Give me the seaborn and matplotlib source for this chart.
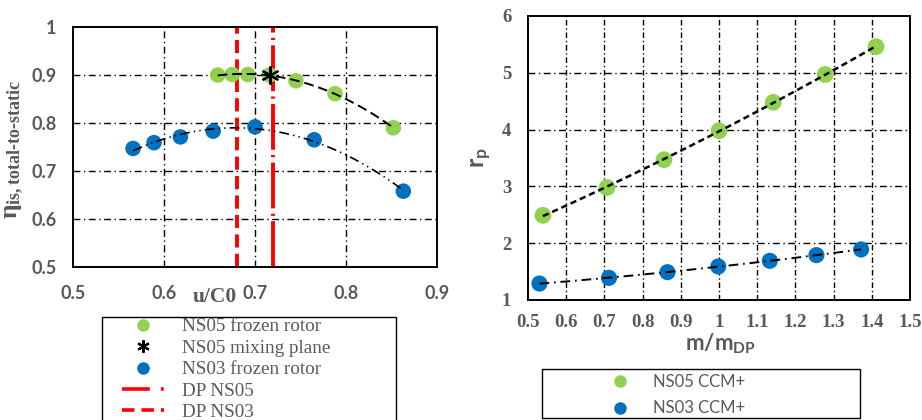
import numpy as np
import pandas as pd
import matplotlib
matplotlib.use("Agg")
import matplotlib.pyplot as plt
from matplotlib.lines import Line2D
from matplotlib.patches import Rectangle
import seaborn as sns

# ---------------- data ----------------
ns05_u = [0.659, 0.675, 0.692, 0.716, 0.745, 0.788, 0.852]
ns05_eta = [0.900, 0.901, 0.901, 0.900, 0.888, 0.861, 0.790]
mix_u = [0.717]
mix_eta = [0.900]
ns03_u = [0.566, 0.589, 0.618, 0.654, 0.700, 0.765, 0.863]
ns03_eta = [0.747, 0.759, 0.771, 0.783, 0.792, 0.765, 0.658]
dp_ns05 = 0.720
dp_ns03 = 0.680

ns05_m = [0.539, 0.707, 0.856, 1.000, 1.142, 1.278, 1.411]
ns05_rp = [2.49, 2.98, 3.47, 3.98, 4.48, 4.97, 5.46]
ns03_m = [0.530, 0.712, 0.865, 0.998, 1.133, 1.255, 1.372]
ns03_rp = [1.29, 1.39, 1.49, 1.59, 1.69, 1.79, 1.89]

left_xticks = [0.5, 0.6, 0.7, 0.8, 0.9]
left_yticks = [0.5, 0.6, 0.7, 0.8, 0.9, 1.0]
left_yticklabels = ["0.5", "0.6", "0.7", "0.8", "0.9", "1"]
right_xticks = [0.5, 0.6, 0.7, 0.8, 0.9, 1.0, 1.1, 1.2, 1.3, 1.4, 1.5]
right_xticklabels = ["0.5", "0.6", "0.7", "0.8", "0.9", "1", "1.1", "1.2", "1.3", "1.4", "1.5"]
right_yticks = [1, 2, 3, 4, 5, 6]

GREEN = "#92D050"
BLUE = "#0070C0"
RED = "#FF0000"
GRAY = "#595959"
SERIF = "Liberation Serif"
SANS = "Lato"

sns.set_style("white")
plt.rcParams["lines.scale_dashes"] = False
plt.rcParams["font.family"] = ["DejaVu Sans"]

fig = plt.figure(figsize=(9.22, 4.2), dpi=100)
ax1 = fig.add_axes([73 / 922, 1 - 267 / 420, 364 / 922, 240 / 420])
ax2 = fig.add_axes([528 / 922, 1 - 300 / 420, 382 / 922, 284 / 420])

grid_dd = (0, (5, 2.5, 1, 2.5))


def fit_df(x, y, deg=2, n=100):
    c = np.polyfit(x, y, deg)
    xs = np.linspace(min(x), max(x), n)
    return pd.DataFrame({"x": xs, "y": np.polyval(c, xs)})


# ---------------- left panel ----------------
ax1.set_xlim(0.5, 0.9)
ax1.set_ylim(0.5, 1.0)
for v in [0.6, 0.7, 0.8]:
    ax1.axvline(v, color="black", lw=1.0, linestyle=grid_dd, zorder=1)
for v in [0.6, 0.7, 0.8, 0.9]:
    ax1.axhline(v, color="black", lw=1.0, linestyle=grid_dd, zorder=1)

ylo, yhi = ax1.get_ylim()
ax1.vlines([dp_ns03], ylo, yhi, colors=RED, linewidths=2.8,
           linestyles=[(0, (9.5, 4.5))], zorder=2, capstyle="butt")
ax1.vlines([dp_ns05], ylo, yhi, colors=RED, linewidths=2.8,
           linestyles=[(0, (33, 3.8, 1.6, 3.8))], zorder=2, capstyle="butt")

df05 = pd.DataFrame({"x": ns05_u, "y": ns05_eta})
df03 = pd.DataFrame({"x": ns03_u, "y": ns03_eta})
sns.scatterplot(data=df05, x="x", y="y", ax=ax1, color=GREEN, s=125,
                edgecolor="none", zorder=3, legend=False)
sns.scatterplot(data=df03, x="x", y="y", ax=ax1, color=BLUE, s=125,
                edgecolor="none", zorder=3, legend=False)
f05 = fit_df(ns05_u, ns05_eta)
f03 = fit_df(ns03_u, ns03_eta)
sns.lineplot(data=f05, x="x", y="y", ax=ax1, color="black", lw=1.4,
             zorder=4).lines[-1].set_linestyle((0, (7, 3.5)))
sns.lineplot(data=f03, x="x", y="y", ax=ax1, color="black", lw=1.2,
             zorder=4).lines[-1].set_linestyle((0, (7, 3, 1, 3, 1, 3)))
ax1.plot(mix_u, mix_eta, linestyle="none", marker=(6, 2, 0), ms=13,
         mew=1.5, color="black", zorder=5)

ax1.set_xticks(left_xticks)
ax1.set_yticks(left_yticks)
ax1.set_yticklabels(left_yticklabels)
ax1.tick_params(axis="both", length=0, labelsize=13, labelcolor=GRAY)
ax1.tick_params(axis="x", pad=13)
ax1.tick_params(axis="y", pad=12)
for lab in ax1.get_xticklabels() + ax1.get_yticklabels():
    lab.set_fontfamily(SANS)
    lab.set_fontweight("bold")
for sp in ax1.spines.values():
    sp.set_color("black")
    sp.set_linewidth(1.4)
ax1.set_xlabel("u/C0", fontfamily=SERIF, fontweight="bold", fontsize=15.5,
               color=GRAY)
ax1.xaxis.set_label_coords(0.39, -0.085)
ax1.set_ylabel("$\\mathregular{\u03b7_{is,total\u2010to\u2010static}}$",
               fontfamily=SERIF, fontweight="bold", fontsize=18.5, color=GRAY)
ax1.yaxis.set_label_coords(-0.128, 0.49)

# ---------------- right panel ----------------
ax2.set_xlim(0.5, 1.5)
ax2.set_ylim(1, 6)
for v in right_xticks[1:-1]:
    ax2.axvline(v, color="black", lw=1.0, linestyle=(0, (4, 2, 1, 2)), zorder=1)
for v in right_yticks[1:-1]:
    ax2.axhline(v, color="black", lw=1.0, linestyle=grid_dd, zorder=1)

dfm05 = pd.DataFrame({"x": ns05_m, "y": ns05_rp})
dfm03 = pd.DataFrame({"x": ns03_m, "y": ns03_rp})
sns.scatterplot(data=dfm05, x="x", y="y", ax=ax2, color=GREEN, s=145,
                edgecolor="none", zorder=3, legend=False)
sns.scatterplot(data=dfm03, x="x", y="y", ax=ax2, color=BLUE, s=135,
                edgecolor="none", zorder=3, legend=False)
g05 = fit_df(ns05_m, ns05_rp)
g03 = fit_df(ns03_m, ns03_rp)
sns.lineplot(data=g05, x="x", y="y", ax=ax2, color="black", lw=1.8,
             zorder=4).lines[-1].set_linestyle((0, (4.5, 2.8)))
sns.lineplot(data=g03, x="x", y="y", ax=ax2, color="black", lw=1.4,
             zorder=4).lines[-1].set_linestyle((0, (7, 3.5, 1.2, 3.5)))

ax2.set_xticks(right_xticks)
ax2.set_xticklabels(right_xticklabels)
ax2.set_yticks(right_yticks)
ax2.tick_params(axis="both", length=0, labelsize=13.5, labelcolor=GRAY)
ax2.tick_params(axis="x", pad=10)
ax2.tick_params(axis="y", pad=12)
for lab in ax2.get_xticklabels() + ax2.get_yticklabels():
    lab.set_fontfamily(SERIF)
    lab.set_fontweight("bold")
for sp in ax2.spines.values():
    sp.set_color("black")
    sp.set_linewidth(1.4)
ax2.set_xlabel("$\\mathregular{m/m_{DP}}$", fontfamily=SANS, fontweight="bold",
               fontsize=16, color=GRAY)
ax2.xaxis.set_label_coords(0.503, -0.112)
ax2.set_ylabel("$\\mathregular{r_p}$", fontfamily=SANS, fontweight="bold",
               fontsize=18, color=GRAY)
ax2.yaxis.set_label_coords(-0.09, 0.5)

# ---------------- legends ----------------
fig.patches.append(Rectangle((102 / 922, -0.02), 294 / 922, 0.02 + 1 - 317 / 420,
                             transform=fig.transFigure, fill=False,
                             edgecolor="black", lw=1.0, zorder=10))
fig.patches.append(Rectangle((542 / 922, 1 - 418 / 420), 318 / 922, 49 / 420,
                             transform=fig.transFigure, fill=False,
                             edgecolor="black", lw=1.0, zorder=10))

h1 = [
    Line2D([], [], linestyle="none", marker="o", ms=9, color=GREEN, mec="none"),
    Line2D([], [], linestyle="none", marker=(6, 2, 0), ms=9, mew=1.5, color="black"),
    Line2D([], [], linestyle="none", marker="o", ms=9, color=BLUE, mec="none"),
    Line2D([], [], color=RED, lw=2.6, linestyle=(0, (20, 8, 2, 8))),
    Line2D([], [], color=RED, lw=2.6, linestyle=(0, (9, 5))),
]
lab1 = ["NS05 frozen rotor", "NS05 mixing plane", "NS03 frozen rotor",
        "DP NS05", "DP NS03"]
leg1 = fig.legend(h1, lab1, loc="upper left", bbox_to_anchor=(122 / 922, 1 - 318 / 420),
                  frameon=False, borderpad=0, borderaxespad=0, handlelength=2.2,
                  handletextpad=0.95, labelspacing=0.21,
                  prop={"family": SERIF, "size": 13.8})
for t in leg1.get_texts():
    t.set_color(GRAY)

h2 = [
    Line2D([], [], linestyle="none", marker="o", ms=9, color=GREEN, mec="none"),
    Line2D([], [], linestyle="none", marker="o", ms=9, color=BLUE, mec="none"),
]
lab2 = ["NS05 CCM+", "NS03 CCM+"]
leg2 = fig.legend(h2, lab2, loc="upper left", bbox_to_anchor=(603 / 922, 1 - 374 / 420),
                  frameon=False, borderpad=0, borderaxespad=0, handlelength=2.0,
                  handletextpad=1.0, labelspacing=0.62,
                  prop={"family": SANS, "size": 12})
for t in leg2.get_texts():
    t.set_color(GRAY)

fig.savefig("out.png", dpi=100)
